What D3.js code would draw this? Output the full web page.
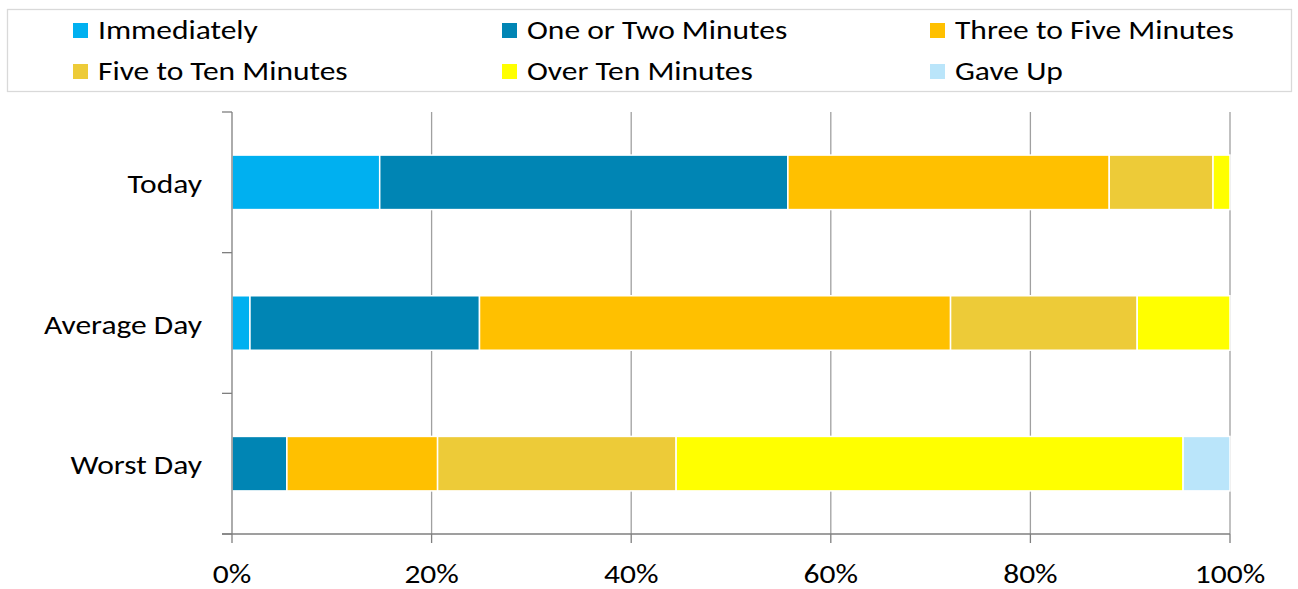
<!DOCTYPE html>
<html>
<head>
<meta charset="utf-8">
<script src="https://cdn.jsdelivr.net/npm/d3@7"></script>
<style>
html, body { margin: 0; padding: 0; background: #fff; }
svg { display: block; }
text { font-family: Carlito, Lato, "Open Sans", sans-serif; fill: #000; }
</style>
</head>
<body>
<svg id="chart" width="1298" height="589"></svg>
<script>
const categories = ["Today", "Average Day", "Worst Day"];
const seriesNames = ["Immediately", "One or Two Minutes", "Three to Five Minutes", "Five to Ten Minutes", "Over Ten Minutes", "Gave Up"];
const seriesColors = ["#00B0F0", "#0085B4", "#FFC000", "#EDCB38", "#FFFF00", "#BAE5FA"];
const immediately = [14.8, 1.8, 0.0];
const oneOrTwo = [40.9, 23.0, 5.5];
const threeToFive = [32.2, 47.2, 15.1];
const fiveToTen = [10.4, 18.7, 23.9];
const overTen = [1.7, 9.3, 50.8];
const gaveUp = [0.0, 0.0, 4.7];
const xTicks = [0, 0.2, 0.4, 0.6, 0.8, 1.0];

const seriesValues = [immediately, oneOrTwo, threeToFive, fiveToTen, overTen, gaveUp];
const rows = categories.map((c, i) => {
  const r = { category: c };
  seriesNames.forEach((s, j) => r[s] = seriesValues[j][i]);
  return r;
});
const stacked = d3.stack().keys(seriesNames)
  .offset(d3.stackOffsetExpand)(rows);

const FS = 31.5, SY = 0.87;
const svg = d3.select("#chart");
const x = d3.scaleLinear().domain([0, 1]).range([232, 1230]);
const pad = 0.6126;
const y = d3.scaleBand().domain(categories).range([112, 534])
  .paddingInner(pad).paddingOuter(pad / 2);
const color = d3.scaleOrdinal().domain(seriesNames).range(seriesColors);

function label(g, tx, ty, anchor, txt) {
  return g.append("text")
    .attr("transform", `translate(${tx},${ty}) scale(1,${SY})`)
    .attr("text-anchor", anchor).attr("font-size", FS).text(txt);
}

// Gridlines
svg.append("g").selectAll("line").data(xTicks.slice(1)).join("line")
  .attr("x1", d => x(d)).attr("x2", d => x(d))
  .attr("y1", 112).attr("y2", 534)
  .attr("stroke", "#A0A0A0").attr("stroke-width", 1.3);

// Bars
svg.append("g").selectAll("g").data(stacked).join("g")
  .attr("fill", d => color(d.key))
  .selectAll("rect").data(d => d.filter(p => p[1] - p[0] > 0)).join("rect")
  .attr("x", d => x(d[0]))
  .attr("width", d => x(d[1]) - x(d[0]))
  .attr("y", d => y(d.data.category))
  .attr("height", y.bandwidth())
  .attr("stroke", "#fff").attr("stroke-width", 1.5);

// Y axis
const yTickPos = d3.range(categories.length + 1).map(i => 112 + i * y.step());
const yAxisG = svg.append("g");
yAxisG.append("line").attr("x1", 232).attr("x2", 232).attr("y1", 112).attr("y2", 534)
  .attr("stroke", "#7F7F7F").attr("stroke-width", 1.3);
yAxisG.selectAll("line.t").data(yTickPos).join("line").attr("class", "t")
  .attr("x1", 222).attr("x2", 232).attr("y1", d => d).attr("y2", d => d)
  .attr("stroke", "#7F7F7F").attr("stroke-width", 1.3);
categories.forEach(c => label(yAxisG, 202, y(c) + y.bandwidth() / 2 + 10.5, "end", c));

// X axis
const xAxisG = svg.append("g");
xAxisG.append("line").attr("x1", 222).attr("x2", 1230).attr("y1", 534).attr("y2", 534)
  .attr("stroke", "#7F7F7F").attr("stroke-width", 1.3);
xAxisG.selectAll("line.t").data(xTicks).join("line").attr("class", "t")
  .attr("x1", d => x(d)).attr("x2", d => x(d)).attr("y1", 534).attr("y2", 543)
  .attr("stroke", "#7F7F7F").attr("stroke-width", 1.3);
const fmt = d3.format(".0%");
xTicks.forEach(t => label(xAxisG, x(t), 583, "middle", fmt(t)));

// Legend
const legend = svg.append("g");
legend.append("rect").attr("x", 7.5).attr("y", 9.5).attr("width", 1284).attr("height", 82)
  .attr("fill", "#fff").attr("stroke", "#D9D9D9").attr("stroke-width", 1.3);
const colX = [73, 502, 930];
const rowY = [23, 64];
seriesNames.forEach((s, i) => {
  const gx = colX[i % 3], gy = rowY[Math.floor(i / 3)];
  legend.append("rect").attr("x", gx).attr("y", gy).attr("width", 15).attr("height", 15)
    .attr("fill", color(s));
  label(legend, gx + 25, gy + 16, "start", s);
});
</script>
</body>
</html>
